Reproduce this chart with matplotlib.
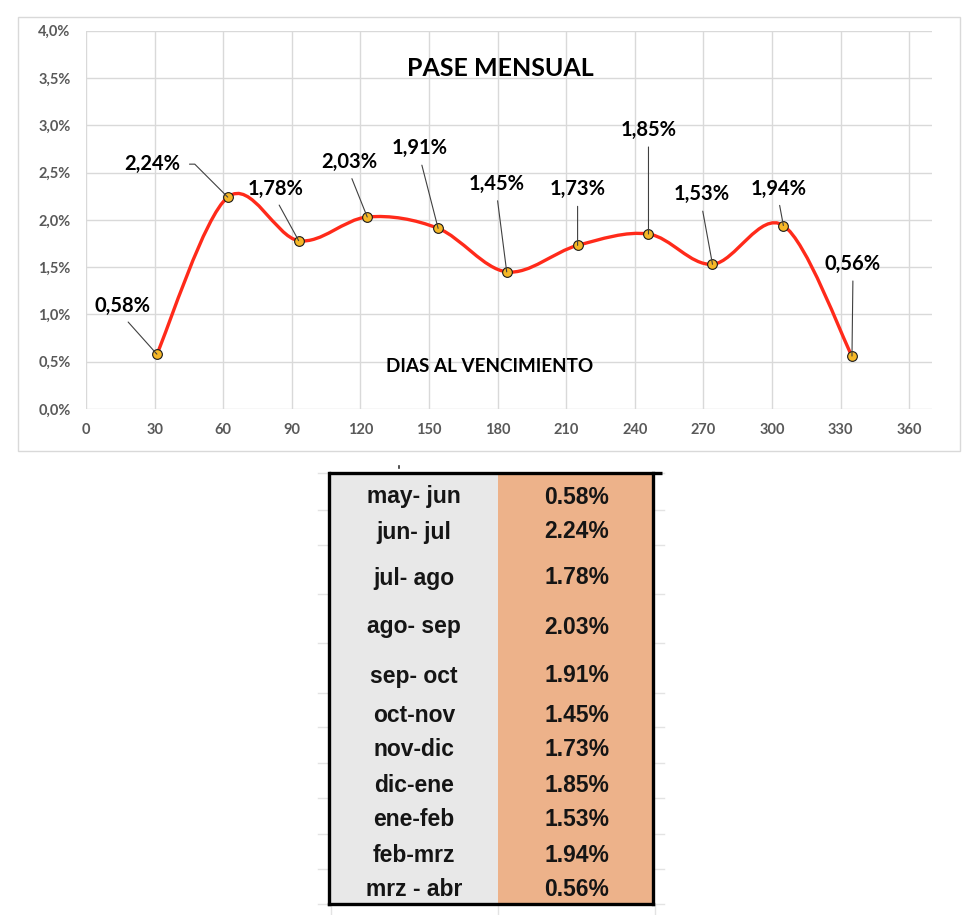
import matplotlib
matplotlib.use("Agg")
import matplotlib.pyplot as plt
from matplotlib.path import Path
from matplotlib.patches import PathPatch, Rectangle
from matplotlib.ticker import FuncFormatter, MultipleLocator

# ---------------- data ----------------
days = [31, 62, 93, 123, 154, 184, 215, 246, 274, 305, 335]
pase = [0.58, 2.24, 1.78, 2.03, 1.91, 1.45, 1.73, 1.85, 1.53, 1.94, 0.56]  # percent
periods = ["may- jun", "jun- jul", "jul- ago", "ago- sep", "sep- oct", "oct-nov",
           "nov-dic", "dic-ene", "ene-feb", "feb-mrz", "mrz - abr"]
table_vals = ["0.58%", "2.24%", "1.78%", "2.03%", "1.91%", "1.45%", "1.73%",
              "1.85%", "1.53%", "1.94%", "0.56%"]
x_ticks = list(range(0, 361, 30))
title = "PASE MENSUAL"
xlabel = "DIAS AL VENCIMIENTO"

# ---------------- layout (pixels) ----------------
W, H = 980, 915
label_off = [(-34, 48), (-76, 33), (-23, 52), (-18, 55), (-18, 80), (-10, 88),
             (0, 56), (0, 104), (-11, 70), (-5, 37), (1, 92)]
row_bounds = [473, 510, 545, 594, 643, 693, 727, 763, 798, 834, 869, 904]
row_text_y = [497, 532, 578, 627, 676, 715, 750, 785, 820, 855, 890]

fig = plt.figure(figsize=(W / 100, H / 100), dpi=100)
fig.patch.set_facecolor("white")


def fx(px):
    return px / W


def fy(py):
    return 1 - py / H


fig.patches.append(Rectangle((fx(18), fy(451)), fx(960) - fx(18), fy(17) - fy(451),
                             transform=fig.transFigure, fill=False,
                             edgecolor="#d9d9d9", lw=1.0, zorder=0))

ax = fig.add_axes([fx(86), fy(409), fx(932) - fx(86), fy(30.7) - fy(409)])
ax.set_xlim(0, 370)
ax.set_ylim(0, 0.04)
ax.set_xticks(x_ticks)
ax.yaxis.set_major_locator(MultipleLocator(0.005))
ax.yaxis.set_major_formatter(FuncFormatter(lambda v, p: f"{v*100:.1f}".replace(".", ",") + "%"))
for s in ax.spines.values():
    s.set_visible(False)
ax.grid(True, color="#d9d9d9", lw=1.0)
ax.set_axisbelow(True)
ax.tick_params(length=0, labelcolor="#595959", labelsize=10.5)
ax.tick_params(axis="y", pad=11)
ax.tick_params(axis="x", pad=10)
for lab in ax.get_xticklabels() + ax.get_yticklabels():
    lab.set_fontfamily("Lato")
    lab.set_fontweight("bold")

pts = [(d, v / 100) for d, v in zip(days, pase)]
n = len(pts)
verts = [pts[0]]
codes = [Path.MOVETO]
for i in range(n - 1):
    p0 = pts[max(i - 1, 0)]
    p1 = pts[i]
    p2 = pts[i + 1]
    p3 = pts[min(i + 2, n - 1)]
    c1 = (p1[0] + (p2[0] - p0[0]) / 6, p1[1] + (p2[1] - p0[1]) / 6)
    c2 = (p2[0] - (p3[0] - p1[0]) / 6, p2[1] - (p3[1] - p1[1]) / 6)
    verts += [c1, c2, p2]
    codes += [Path.CURVE4] * 3
ax.add_patch(PathPatch(Path(verts, codes), fill=False, edgecolor="#ff2a1a",
                       lw=2.4, zorder=3, capstyle="round", joinstyle="round"))
ax.plot(days, [v / 100 for v in pase], linestyle="none", marker="o", ms=7,
        mfc="#f5b727", mec="#1a1a1a", mew=0.8, zorder=4)

for i, (d, v) in enumerate(zip(days, pase)):
    txt = f"{v:.2f}".replace(".", ",") + "%"
    dx, dy = label_off[i]
    if i == 1:
        ap = dict(arrowstyle="-", color="#404040", lw=0.8, shrinkA=5, shrinkB=0,
                  relpos=(1, 0.5), connectionstyle="angle,angleA=0,angleB=135,rad=0")
    else:
        ap = dict(arrowstyle="-", color="#404040", lw=0.8, shrinkA=3, shrinkB=0,
                  relpos=(0.5, 0))
    ax.annotate(txt, xy=(d, v / 100), xytext=(dx, dy), textcoords="offset pixels",
                ha="center", va="center", fontsize=14.5, fontweight="bold",
                fontfamily="Lato", color="black", arrowprops=ap, zorder=5)

fig.text(fx(500), fy(68), title, ha="center", va="center", fontsize=18,
         fontweight="bold", fontfamily="Lato", color="black")
fig.text(fx(490), fy(367), xlabel, ha="center", va="center", fontsize=13.6,
         fontweight="bold", fontfamily="Lato", color="black")

# ---------------- table ----------------
tax = fig.add_axes([0, 0, 1, 1], zorder=-1)
tax.set_xlim(0, W)
tax.set_ylim(H, 0)
tax.axis("off")
tax.patch.set_visible(False)

xl, xm, xr = 329, 498, 653
top, bot = row_bounds[0], row_bounds[-1]
for yb in row_bounds:
    tax.plot([318, 664], [yb, yb], color="#e3e3e3", lw=1.0, zorder=0)
for xv in (331, xm, 655):
    tax.plot([xv, xv], [bot, H], color="#e3e3e3", lw=1.0, zorder=0)
tax.plot([399, 399], [466, 468], color="#333333", lw=1.2)

tax.add_patch(Rectangle((xl, top), xm - xl, bot - top, facecolor="#e8e8e8",
                        edgecolor="none", zorder=1))
tax.add_patch(Rectangle((xm, top), xr - xm, bot - top, facecolor="#edb28a",
                        edgecolor="none", zorder=1))
tax.plot([xl, 662], [top, top], color="black", lw=2.4, zorder=3, solid_capstyle="butt")
tax.plot([xl, xr], [bot, bot], color="black", lw=2.4, zorder=3, solid_capstyle="projecting")
tax.plot([xl, xl], [top, bot], color="black", lw=2.4, zorder=3, solid_capstyle="projecting")
tax.plot([xr, xr], [top, bot], color="black", lw=2.4, zorder=3, solid_capstyle="projecting")

for i, (p, tv) in enumerate(zip(periods, table_vals)):
    yc = row_text_y[i]
    tax.text(414, yc, p, ha="center", va="center", fontsize=16.5, fontweight="bold",
             fontfamily="Liberation Sans", color="#151515", zorder=4)
    tax.text(577, yc, tv, ha="center", va="center", fontsize=16.5, fontweight="bold",
             fontfamily="Liberation Sans", color="#151515", zorder=4)

fig.savefig("out.png", dpi=100, facecolor="white")
